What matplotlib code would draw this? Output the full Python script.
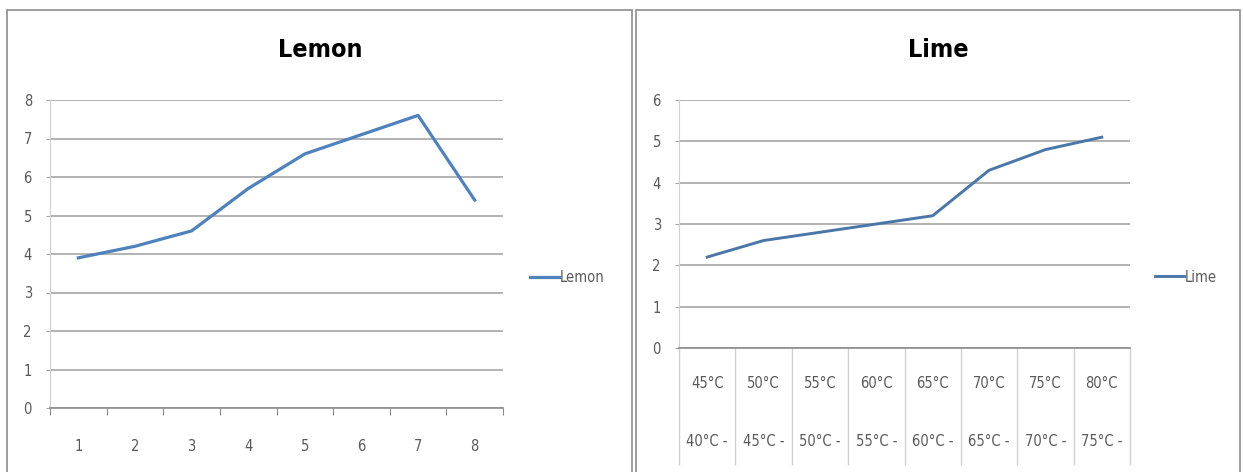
import matplotlib.pyplot as plt
from matplotlib.patches import Rectangle

plt.rcParams['font.family'] = ['Liberation Sans Narrow', 'DejaVu Sans']
plt.rcParams['font.stretch'] = 'condensed'

# series data
lemonX = [1, 2, 3, 4, 5, 6, 7, 8]
lemonY = [3.9, 4.2, 4.6, 5.7, 6.6, 7.1, 7.6, 5.4]

limeLow = ["40°C -", "45°C -", "50°C -", "55°C -", "60°C -", "65°C -", "70°C -", "75°C -"]
limeHigh = ["45°C", "50°C", "55°C", "60°C", "65°C", "70°C", "75°C", "80°C"]
limeY = [2.2, 2.6, 2.8, 3.0, 3.2, 4.3, 4.8, 5.1]

gridColor = "#a6a6a6"
labelColor = "#595959"

fig = plt.figure(figsize=(12.43, 4.72), dpi=100)

# panel frames
fig.patches.append(Rectangle((7 / 1243, -0.1), 625 / 1243, 1.1 - 10 / 472,
                             transform=fig.transFigure, fill=False,
                             edgecolor="#8c8c8c", linewidth=1.2))
fig.patches.append(Rectangle((636 / 1243, -0.1), 604 / 1243, 1.1 - 10 / 472,
                             transform=fig.transFigure, fill=False,
                             edgecolor="#8c8c8c", linewidth=1.2))


def styleAxes(ax, top):
    ax.set_xlim(0.5, 8.5)
    ax.set_ylim(0, top)
    ax.set_yticks(range(0, top + 1))
    ax.yaxis.grid(True, color=gridColor, linewidth=1.2)
    ax.set_axisbelow(True)
    for s in ["top", "right"]:
        ax.spines[s].set_visible(False)
    ax.spines["left"].set_color("#d0d0d0")
    ax.spines["bottom"].set_color("#8c8c8c")
    ax.spines["bottom"].set_linewidth(1.2)
    ax.tick_params(axis="y", length=3, color=gridColor, labelsize=10.5,
                   labelcolor=labelColor, pad=10)
    # category boundaries as major ticks, labels on minor ticks
    ax.set_xticks([i + 0.5 for i in range(0, 9)])
    ax.set_xticklabels([])


def addLegend(ax, x, y):
    ax.legend(loc="center left", bbox_to_anchor=(x / 1243, 1 - y / 472),
              bbox_transform=fig.transFigure, frameon=False, fontsize=10.5,
              handlelength=2.0, handletextpad=0.05, borderpad=0,
              borderaxespad=0, labelcolor=labelColor)


# Lemon chart
ax1 = fig.add_axes([50 / 1243, 1 - 408 / 472, 453 / 1243, 308 / 472])
styleAxes(ax1, 8)
ax1.plot(lemonX, lemonY, color="#4f81bd", linewidth=2.3, label="Lemon")
ax1.set_xticks(lemonX, minor=True)
ax1.set_xticklabels([str(x) for x in lemonX], minor=True)
ax1.tick_params(axis="x", which="major", length=5, color="#8c8c8c")
ax1.tick_params(axis="x", which="minor", length=0, labelsize=10.5,
                labelcolor=labelColor, pad=22)
fig.text(320 / 1243, 1 - 50 / 472, "Lemon", ha="center", va="center",
         fontsize=18, fontweight="bold")
addLegend(ax1, 530, 278)

# Lime chart
ax2 = fig.add_axes([679 / 1243, 1 - 348 / 472, 451 / 1243, 248 / 472])
styleAxes(ax2, 6)
ax2.plot(range(1, 9), limeY, color="#4a76a8", linewidth=2.1, label="Lime")
ax2.tick_params(axis="x", which="major", length=84, color="#d0d0d0",
                width=1)
for i in range(8):
    ax2.text(i + 1, -35 / 248, limeHigh[i], transform=ax2.get_xaxis_transform(),
             ha="center", va="center", fontsize=10.5, color=labelColor)
    ax2.text(i + 1, -93 / 248, limeLow[i], transform=ax2.get_xaxis_transform(),
             ha="center", va="center", fontsize=10.5, color=labelColor)
fig.text(938 / 1243, 1 - 50 / 472, "Lime", ha="center", va="center",
         fontsize=18, fontweight="bold")
addLegend(ax2, 1155, 277)

fig.savefig("out.png", dpi=100)
